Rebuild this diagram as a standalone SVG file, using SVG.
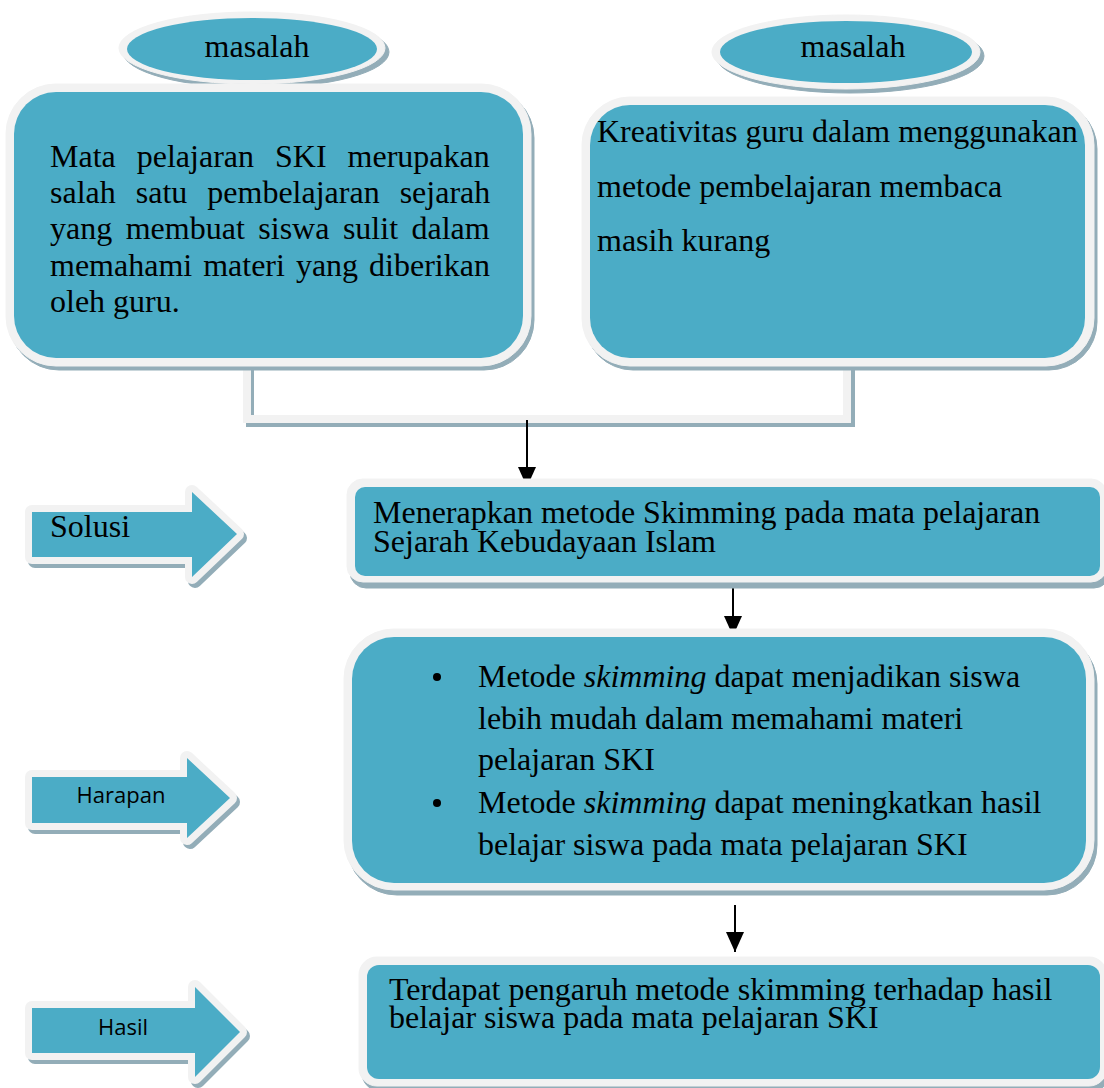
<svg xmlns="http://www.w3.org/2000/svg" width="1104" height="1088" viewBox="0 0 1104 1088">
<defs>
<style>
.sh{fill:#93adb8;stroke:#93adb8}
.wh{fill:#f2f2f2;stroke:#f2f2f2}
.tl{fill:#4bacc6}
.ser{font-family:"Liberation Serif","Times New Roman",serif;font-size:32px;fill:#000}
.sans{font-family:"Open Sans","Liberation Sans",sans-serif;font-size:22px;fill:#000}
.conn{stroke:#000;stroke-width:2;fill:none}
</style>
<marker id="ah2" viewBox="0 0 20 18" refX="20" refY="9" markerWidth="20" markerHeight="18" orient="auto" markerUnits="userSpaceOnUse">
<path d="M0,0 L20,9 L0,18 Z" fill="#000"/>
</marker>
</defs>
<rect width="1104" height="1088" fill="#fff"/>

<g id="connectors">
<path d="M250,368 V423 H851 V368" fill="none" stroke="#93adb8" stroke-width="8"/>
<path d="M247,364 V419 H847 V364" fill="none" stroke="#f2f2f2" stroke-width="8"/>
<line class="conn" x1="527" y1="420" x2="527" y2="487" marker-end="url(#ah2)"/>
<line class="conn" x1="733" y1="578" x2="733" y2="636" marker-end="url(#ah2)"/>
<line class="conn" x1="735" y1="905" x2="735" y2="952" marker-end="url(#ah2)"/>
</g>

<g id="masalah1">
<ellipse class="sh" cx="256" cy="52" rx="133" ry="36"/>
<ellipse class="wh" cx="252" cy="48" rx="133" ry="36"/>
<ellipse class="tl" cx="252" cy="49" rx="125" ry="31"/>
<text class="ser" x="257" y="57" text-anchor="middle">masalah</text>
</g>

<g id="masalah2">
<ellipse class="sh" cx="850" cy="56" rx="134" ry="37"/>
<ellipse class="wh" cx="846" cy="52" rx="134" ry="37"/>
<ellipse class="tl" cx="846" cy="52" rx="126" ry="31"/>
<text class="ser" x="853" y="57" text-anchor="middle">masalah</text>
</g>

<g id="box1">
<rect class="sh" x="9" y="88" width="525" height="282" rx="50"/>
<rect class="wh" x="6" y="84" width="525" height="282" rx="50"/>
<rect class="tl" x="14" y="92" width="509" height="266" rx="42"/>
<text class="ser" x="50" y="167" word-spacing="13">Mata pelajaran SKI merupakan</text>
<text class="ser" x="50" y="203" word-spacing="12">salah satu pembelajaran sejarah</text>
<text class="ser" x="50" y="239" word-spacing="5.5">yang membuat siswa sulit dalam</text>
<text class="ser" x="50" y="276" word-spacing="3">memahami materi yang diberikan</text>
<text class="ser" x="50" y="312">oleh guru.</text>
</g>

<g id="box2">
<rect class="sh" x="585" y="101" width="512" height="269" rx="48"/>
<rect class="wh" x="582" y="97" width="512" height="269" rx="48"/>
<rect class="tl" x="590" y="105" width="495" height="253" rx="40"/>
<text class="ser" x="597" y="142">Kreativitas guru dalam menggunakan</text>
<text class="ser" x="597" y="197">metode pembelajaran membaca</text>
<text class="ser" x="597" y="251">masih kurang</text>
</g>

<g id="arrow-solusi">
<polygon class="sh" points="35,516 195,516 195,496 240,538 195,581 195,561 35,561" stroke-width="14" stroke-linejoin="round"/>
<polygon class="wh" points="32,512 192,512 192,492 237,534 192,577 192,557 32,557" stroke-width="14" stroke-linejoin="round"/>
<polygon class="tl" points="32,512 192,512 192,492 237,534 192,577 192,557 32,557"/>
<text class="ser" x="50" y="537">Solusi</text>
</g>

<g id="box-solusi">
<rect class="sh" x="350" y="485" width="760" height="103" rx="16"/>
<rect class="wh" x="347" y="479" width="760" height="103" rx="16"/>
<rect class="tl" x="355" y="487" width="745" height="89" rx="10"/>
<text class="ser" x="373" y="523">Menerapkan metode Skimming pada mata pelajaran</text>
<text class="ser" x="373" y="552">Sejarah Kebudayaan Islam</text>
</g>

<g id="arrow-harapan">
<polygon class="sh" points="35,781 190,781 190,762 233,802 190,842 190,827 35,827" stroke-width="14" stroke-linejoin="round"/>
<polygon class="wh" points="32,777 187,777 187,758 230,798 187,838 187,823 32,823" stroke-width="14" stroke-linejoin="round"/>
<polygon class="tl" points="32,777 187,777 187,758 230,798 187,838 187,823 32,823"/>
<text class="sans" x="121" y="803" text-anchor="middle">Harapan</text>
</g>

<g id="box-harapan">
<rect class="sh" x="347" y="634" width="750" height="261" rx="50"/>
<rect class="wh" x="344" y="629" width="750" height="261" rx="50"/>
<rect class="tl" x="352" y="637" width="734" height="246" rx="42"/>
<circle cx="437" cy="677" r="4" fill="#000"/>
<circle cx="437" cy="803" r="4" fill="#000"/>
<text class="ser" x="478" y="687">Metode <tspan font-style="italic">skimming</tspan> dapat menjadikan siswa</text>
<text class="ser" x="478" y="729">lebih mudah dalam memahami materi</text>
<text class="ser" x="478" y="770">pelajaran SKI</text>
<text class="ser" x="478" y="813">Metode <tspan font-style="italic">skimming</tspan> dapat meningkatkan hasil</text>
<text class="ser" x="478" y="855">belajar siswa pada mata pelajaran SKI</text>
</g>

<g id="arrow-hasil">
<polygon class="sh" points="35,1012 198,1012 198,991 243,1036 198,1081 198,1057 35,1057" stroke-width="14" stroke-linejoin="round"/>
<polygon class="wh" points="32,1008 195,1008 195,987 240,1032 195,1077 195,1053 32,1053" stroke-width="14" stroke-linejoin="round"/>
<polygon class="tl" points="32,1008 195,1008 195,987 240,1032 195,1077 195,1053 32,1053"/>
<text class="sans" x="123" y="1035" text-anchor="middle">Hasil</text>
</g>

<g id="box-hasil">
<rect class="sh" x="362" y="962" width="748" height="129" rx="18"/>
<rect class="wh" x="359" y="957" width="748" height="129" rx="18"/>
<rect class="tl" x="367" y="965" width="733" height="114" rx="12"/>
<text class="ser" x="389" y="1000">Terdapat pengaruh metode skimming terhadap hasil</text>
<text class="ser" x="389" y="1028">belajar siswa pada mata pelajaran SKI</text>
</g>
</svg>
